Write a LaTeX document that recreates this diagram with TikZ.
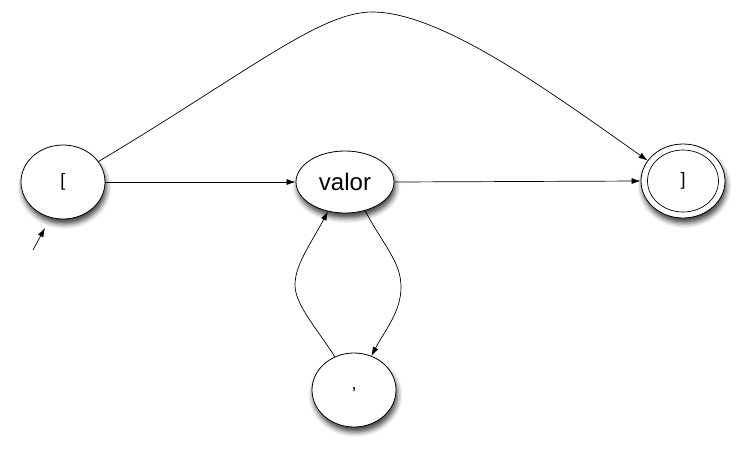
\documentclass[tikz,border=0pt]{standalone}
\usepackage{fontspec}
\setmainfont{Liberation Sans}
\usetikzlibrary{arrows.meta,shapes.geometric,shadows.blur}
\begin{document}
\begin{tikzpicture}[x=1pt,y=-1pt,
  state/.style={ellipse,draw=black,line width=0.8pt,fill=white,inner sep=0pt,
    minimum width=84pt,minimum height=74pt,
    blur shadow={shadow xshift=1.5pt,shadow yshift=-5pt,shadow blur radius=5pt,shadow opacity=75}},
  inner/.style={ellipse,draw=black,line width=0.7pt,inner sep=0pt,minimum width=71pt,minimum height=62pt},
  edge/.style={line width=0.7pt,-{Latex[length=9pt,width=6pt]}}]
\useasboundingbox (0,0) rectangle (745,451);
\node[state] (lb) at (63,182) {\fontsize{18}{20}\selectfont [};
\node[state,minimum width=98pt,minimum height=62pt] (val) at (345,182) {\fontsize{24}{28}\selectfont valor};
\node[state] (rb) at (683,181) {};
\node[inner] (rbi) at (683,181) {\fontsize{18}{20}\selectfont ]};
\node[state] (cm) at (354,390) {\fontsize{18}{20}\selectfont ,};
\coordinate (s0) at (33,250);
\coordinate (s1) at (45,228);
\coordinate (top) at (372,12);
\coordinate (rp) at (401,287);
\coordinate (lp) at (295,285);
\draw[edge] (s0) -- (s1);
\draw[edge] (lb.east) -- (val.west);
\draw[edge] (val.east) -- (rb.west);
\draw[edge] (lb.30) .. controls (248,72) and (320,12) .. (top)
  .. controls (440,12) and (545,88) .. (rb.150);
\draw[edge] (val.-55) .. controls (384,246) and (401,262) .. (rp)
  .. controls (401,312) and (385,330) .. (cm.63);
\draw[edge] (cm.120) .. controls (318,330) and (295,305) .. (lp)
  .. controls (295,265) and (310,245) .. (val.240);
\end{tikzpicture}
\end{document}
